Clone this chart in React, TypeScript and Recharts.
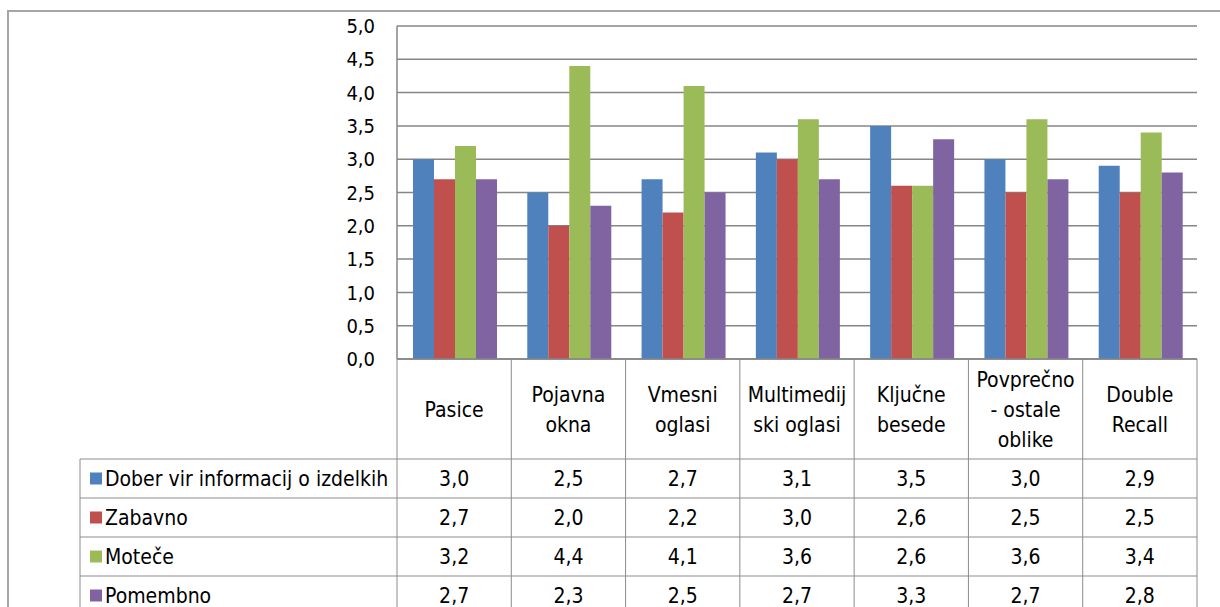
import { BarChart, Bar, XAxis, YAxis, CartesianGrid } from "recharts";

// categories and their wrapped header text in the data table
const categories = [
  "Pasice",
  "Pojavna okna",
  "Vmesni oglasi",
  "Multimedijski oglasi",
  "Ključne besede",
  "Povprečno - ostale oblike",
  "Double Recall",
];
const headerLines = [
  ["Pasice"],
  ["Pojavna", "okna"],
  ["Vmesni", "oglasi"],
  ["Multimedij", "ski oglasi"],
  ["Ključne", "besede"],
  ["Povprečno", "- ostale", "oblike"],
  ["Double", "Recall"],
];

const dober = [3.0, 2.5, 2.7, 3.1, 3.5, 3.0, 2.9];
const zabavno = [2.7, 2.0, 2.2, 3.0, 2.6, 2.5, 2.5];
const motece = [3.2, 4.4, 4.1, 3.6, 2.6, 3.6, 3.4];
const pomembno = [2.7, 2.3, 2.5, 2.7, 3.3, 2.7, 2.8];

const yTicks = [0, 0.5, 1, 1.5, 2, 2.5, 3, 3.5, 4, 4.5, 5];

const series = [
  { key: "dober", name: "Dober vir informacij o izdelkih", color: "#4F81BD", values: dober },
  { key: "zabavno", name: "Zabavno", color: "#C0504D", values: zabavno },
  { key: "motece", name: "Moteče", color: "#9BBB59", values: motece },
  { key: "pomembno", name: "Pomembno", color: "#8064A2", values: pomembno },
];

const data = categories.map((name, i) => {
  const row: Record<string, string | number> = { name };
  series.forEach((s) => (row[s.key] = s.values[i]));
  return row;
});

const FONT = "'Liberation Sans Narrow', 'DejaVu Sans Condensed', 'Liberation Sans', sans-serif";
const GRID = "#868686";
const BORDER = "#8c8c8c";

// table geometry (below the plot)
const PLOT_LEFT = 397;
const PLOT_RIGHT = 1197;
const COL_W = (PLOT_RIGHT - PLOT_LEFT) / categories.length;
const HEADER_H = 100;
const ROW_H = 39;
const ROW_LEFT = 80;

const fmt = (v: number) => v.toFixed(1).replace(".", ",");

function TableColumn(props: any) {
  const { x, y, payload, index } = props;
  const i = payload?.index ?? index;
  const half = COL_W / 2;
  const lines = headerLines[i];
  const lineH = 30;
  const headerMid = y + HEADER_H / 2 + 1;
  const firstLineY = headerMid - ((lines.length - 1) * lineH) / 2;
  const bottom = y + HEADER_H + ROW_H * series.length + 10;

  return (
    <g fontFamily={FONT} fontSize={21} fill="#000">
      <line x1={x + half} y1={y} x2={x + half} y2={bottom} stroke={BORDER} />
      {series.map((_, r) => (
        <line
          key={r}
          x1={x - half}
          x2={x + half}
          y1={y + HEADER_H + r * ROW_H}
          y2={y + HEADER_H + r * ROW_H}
          stroke={BORDER}
        />
      ))}
      {lines.map((t, k) => (
        <text key={t} x={x} y={firstLineY + k * lineH} textAnchor="middle" dominantBaseline="central">
          {t}
        </text>
      ))}
      {series.map((s, r) => (
        <text
          key={s.key}
          x={x}
          y={y + HEADER_H + r * ROW_H + ROW_H / 2}
          textAnchor="middle"
          dominantBaseline="central"
        >
          {fmt(s.values[i])}
        </text>
      ))}
      {i === 0 && (
        <g>
          <line x1={x - half} y1={y} x2={x - half} y2={bottom} stroke={BORDER} />
          <line x1={ROW_LEFT} y1={y + HEADER_H} x2={ROW_LEFT} y2={bottom} stroke={BORDER} />
          {series.map((s, r) => {
            const top = y + HEADER_H + r * ROW_H;
            return (
              <g key={s.key}>
                <line x1={ROW_LEFT} x2={x - half} y1={top} y2={top} stroke={BORDER} />
                <rect x={ROW_LEFT + 10} y={top + ROW_H / 2 - 6} width={12} height={12} fill={s.color} />
                <text x={ROW_LEFT + 25} y={top + ROW_H / 2} dominantBaseline="central">
                  {s.name}
                </text>
              </g>
            );
          })}
        </g>
      )}
    </g>
  );
}

export default function App() {
  return (
    <div
      style={{
        position: "absolute",
        left: 0,
        top: 0,
        width: 1220,
        height: 607,
        overflow: "hidden",
        background: "#fff",
      }}
    >
      <div
        style={{
          position: "absolute",
          left: 7,
          top: 10,
          width: 1400,
          height: 800,
          borderLeft: "2px solid #a6a6a6",
          borderTop: "2px solid #a6a6a6",
        }}
      />
      <div style={{ position: "absolute", left: 0, top: 0 }}>
        <BarChart
          width={1220}
          height={607}
          data={data}
          margin={{ top: 26, right: 1220 - PLOT_RIGHT, bottom: 0, left: PLOT_LEFT - 60 }}
          barCategoryGap="14%"
          barGap={0}
        >
          <CartesianGrid vertical={false} stroke={GRID} strokeWidth={1.5} />
          <XAxis
            dataKey="name"
            interval={0}
            height={248}
            tickLine={false}
            tickSize={0}
            tickMargin={0}
            axisLine={{ stroke: GRID, strokeWidth: 1.5 }}
            tick={<TableColumn />}
          />
          <YAxis
            width={60}
            domain={[0, 5]}
            ticks={yTicks}
            tickFormatter={fmt}
            tickLine={false}
            tickSize={0}
            tickMargin={22}
            axisLine={{ stroke: GRID, strokeWidth: 1.5 }}
            tick={{ fontFamily: FONT, fontSize: 20, fill: "#000" }}
          />
          {series.map((s) => (
            <Bar key={s.key} dataKey={s.key} name={s.name} fill={s.color} isAnimationActive={false} />
          ))}
        </BarChart>
      </div>
    </div>
  );
}
